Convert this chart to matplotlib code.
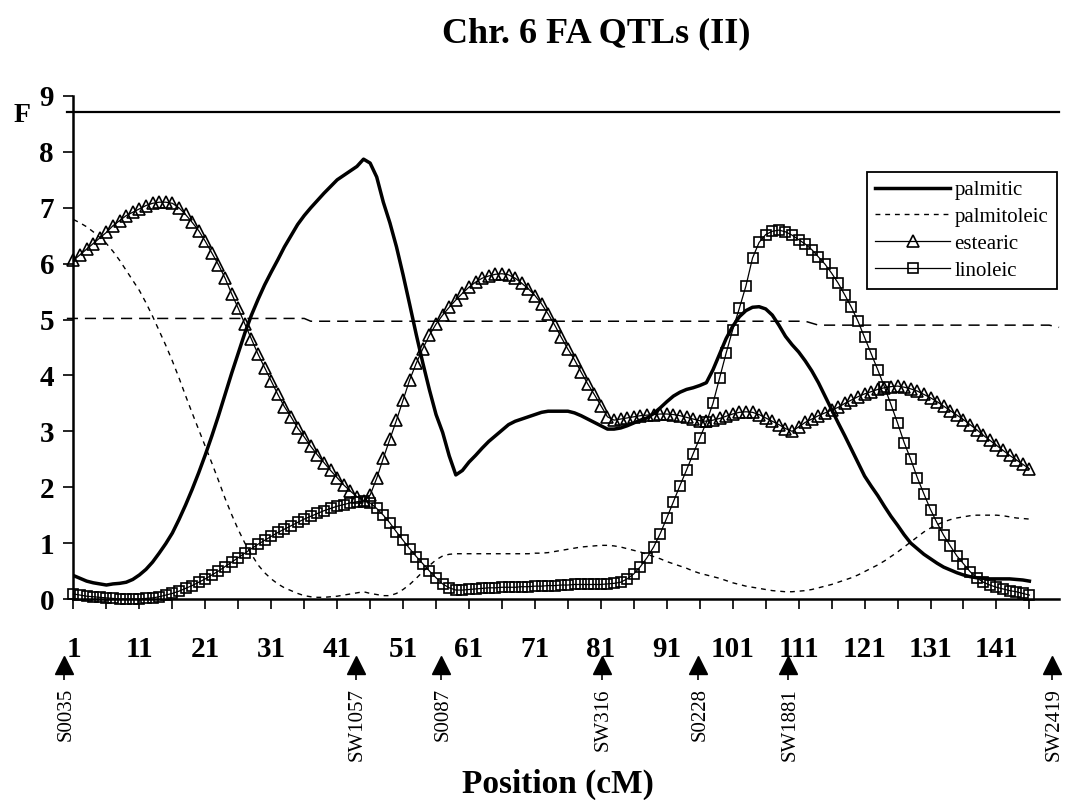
import numpy as np
import matplotlib
matplotlib.use("Agg")
import matplotlib.pyplot as plt

plt.rcParams['font.family'] = ['Liberation Serif', 'DejaVu Serif']
plt.rcParams['lines.scale_dashes'] = False

# positions (cM), one value per position
position = np.arange(1, 147)

palmitic = [
    0.42, 0.37, 0.32, 0.29, 0.27, 0.25, 0.27, 0.28, 0.30, 0.35,
    0.43, 0.53, 0.66, 0.82, 0.99, 1.18, 1.42, 1.68, 1.96, 2.26,
    2.58, 2.92, 3.28, 3.66, 4.04, 4.40, 4.76, 5.08, 5.36, 5.62,
    5.85, 6.07, 6.30, 6.50, 6.70, 6.86, 7.00, 7.13, 7.26, 7.38,
    7.50, 7.58, 7.66, 7.74, 7.87, 7.80, 7.55, 7.10, 6.73, 6.30,
    5.80, 5.27, 4.73, 4.22, 3.74, 3.30, 2.98, 2.56, 2.22, 2.30,
    2.45, 2.57, 2.70, 2.82, 2.92, 3.02, 3.12, 3.18, 3.22, 3.26,
    3.30, 3.34, 3.36, 3.36, 3.36, 3.36, 3.33, 3.28, 3.22, 3.16,
    3.10, 3.04, 3.04, 3.06, 3.10, 3.15, 3.20, 3.24, 3.32, 3.42,
    3.53, 3.63, 3.70, 3.75, 3.78, 3.82, 3.87, 4.10, 4.38, 4.66,
    4.88, 5.05, 5.16, 5.22, 5.23, 5.19, 5.08, 4.90, 4.70, 4.55,
    4.42, 4.26, 4.08, 3.87, 3.63, 3.39, 3.15, 2.92, 2.68, 2.44,
    2.20, 2.02, 1.85, 1.66, 1.48, 1.32, 1.15, 1.00, 0.90, 0.80,
    0.72, 0.64, 0.57, 0.52, 0.47, 0.43, 0.40, 0.38, 0.37, 0.36,
    0.36, 0.36, 0.36, 0.35, 0.34, 0.32,
]

palmitoleic = [
    6.79, 6.73, 6.66, 6.57, 6.47, 6.36, 6.22, 6.06, 5.88, 5.70,
    5.52, 5.30, 5.06, 4.80, 4.54, 4.26, 3.96, 3.64, 3.33, 3.03,
    2.73, 2.43, 2.12, 1.80, 1.51, 1.24, 1.00, 0.80, 0.61, 0.47,
    0.36, 0.27, 0.20, 0.15, 0.10, 0.06, 0.04, 0.03, 0.03, 0.04,
    0.05, 0.07, 0.09, 0.11, 0.13, 0.10, 0.08, 0.06, 0.06, 0.10,
    0.17, 0.26, 0.37, 0.49, 0.60, 0.70, 0.77, 0.80, 0.81, 0.81,
    0.81, 0.81, 0.81, 0.81, 0.81, 0.81, 0.81, 0.81, 0.81, 0.81,
    0.82, 0.82, 0.83, 0.85, 0.87, 0.89, 0.91, 0.93, 0.94, 0.95,
    0.96, 0.96, 0.95, 0.93, 0.90, 0.87, 0.84, 0.80, 0.76, 0.72,
    0.67, 0.63, 0.59, 0.55, 0.50, 0.46, 0.43, 0.40, 0.37, 0.33,
    0.29, 0.26, 0.23, 0.21, 0.19, 0.17, 0.15, 0.14, 0.13, 0.13,
    0.14, 0.15, 0.17, 0.20, 0.23, 0.26, 0.30, 0.34, 0.38, 0.43,
    0.49, 0.55, 0.61, 0.68, 0.76, 0.84, 0.93, 1.02, 1.11, 1.20,
    1.27, 1.33, 1.38, 1.42, 1.45, 1.47, 1.49, 1.50, 1.50, 1.50,
    1.50, 1.49, 1.47, 1.45, 1.44, 1.43,
]

estearic = [
    6.06, 6.16, 6.26, 6.36, 6.46, 6.56, 6.68, 6.77, 6.86, 6.92,
    6.98, 7.04, 7.08, 7.10, 7.10, 7.08, 7.00, 6.88, 6.74, 6.59,
    6.40, 6.19, 5.98, 5.74, 5.46, 5.20, 4.92, 4.65, 4.38, 4.14,
    3.90, 3.66, 3.44, 3.26, 3.06, 2.90, 2.73, 2.58, 2.44, 2.30,
    2.17, 2.04, 1.93, 1.83, 1.76, 1.86, 2.16, 2.52, 2.86, 3.20,
    3.56, 3.92, 4.22, 4.48, 4.72, 4.92, 5.08, 5.22, 5.35, 5.47,
    5.58, 5.67, 5.74, 5.78, 5.81, 5.82, 5.80, 5.74, 5.65, 5.55,
    5.43, 5.28, 5.10, 4.90, 4.68, 4.47, 4.28, 4.06, 3.85, 3.66,
    3.46, 3.26, 3.20, 3.22, 3.24, 3.26, 3.28, 3.29, 3.30, 3.31,
    3.31, 3.30, 3.28, 3.25, 3.22, 3.19, 3.18, 3.20, 3.23, 3.27,
    3.31, 3.34, 3.35, 3.34, 3.30, 3.24, 3.18, 3.12, 3.05, 3.00,
    3.08, 3.16, 3.22, 3.28, 3.33, 3.38, 3.43, 3.50, 3.56, 3.62,
    3.67, 3.71, 3.75, 3.78, 3.80, 3.81, 3.79, 3.76, 3.72, 3.66,
    3.60, 3.53, 3.45, 3.37, 3.29, 3.21, 3.12, 3.03, 2.93, 2.84,
    2.75, 2.66, 2.57, 2.49, 2.41, 2.33,
]

linoleic = [
    0.09, 0.07, 0.05, 0.04, 0.03, 0.02, 0.01, 0.00, 0.00, 0.00,
    0.00, 0.01, 0.02, 0.04, 0.07, 0.10, 0.14, 0.19, 0.24, 0.30,
    0.36, 0.43, 0.50, 0.58, 0.66, 0.74, 0.82, 0.90, 0.98, 1.05,
    1.12, 1.19, 1.25, 1.31, 1.37, 1.43, 1.48, 1.53, 1.58, 1.62,
    1.66, 1.69, 1.72, 1.74, 1.75, 1.72, 1.62, 1.50, 1.36, 1.20,
    1.05, 0.90, 0.76, 0.63, 0.50, 0.38, 0.27, 0.20, 0.16, 0.16,
    0.17, 0.18, 0.19, 0.20, 0.20, 0.21, 0.21, 0.21, 0.22, 0.22,
    0.23, 0.23, 0.24, 0.24, 0.25, 0.25, 0.26, 0.26, 0.26, 0.26,
    0.26, 0.27, 0.28, 0.30, 0.36, 0.45, 0.58, 0.74, 0.93, 1.17,
    1.45, 1.74, 2.03, 2.31, 2.60, 2.88, 3.16, 3.50, 3.95, 4.40,
    4.82, 5.20, 5.60, 6.10, 6.38, 6.52, 6.58, 6.60, 6.57, 6.51,
    6.43, 6.35, 6.25, 6.12, 5.99, 5.83, 5.65, 5.44, 5.22, 4.97,
    4.68, 4.39, 4.10, 3.80, 3.48, 3.15, 2.80, 2.50, 2.17, 1.88,
    1.60, 1.36, 1.14, 0.95, 0.77, 0.63, 0.49, 0.38, 0.30, 0.25,
    0.21, 0.18, 0.15, 0.13, 0.10, 0.07,
]

# significance thresholds
thr_x = [0, 36, 37, 112, 114, 149, 150.5]
thr_5 = [5.02, 5.02, 4.97, 4.97, 4.90, 4.90, 4.86]
thr_top_x = [0, 150.5]
thr_top = [8.72, 8.72]

# microsatellite markers under the axis
marker_names = ["S0035", "SW1057", "S0087", "SW316", "S0228", "SW1881", "SW2419"]
marker_pos = [-0.4, 43.8, 56.7, 81.1, 95.8, 109.4, 149.5]

xtick_major = list(range(1, 147, 10))
xtick_minor = list(range(6, 147, 10))

fig = plt.figure(figsize=(10.66, 8), dpi=100)
ax = fig.add_axes([0.0689, 0.25125, 0.9246, 0.62875])

ax.plot(thr_top_x, thr_top, color='black', lw=1.6, clip_on=False)
ax.plot(thr_x, thr_5, color='black', lw=1.1, dashes=(8, 5), clip_on=False)

ax.plot(position, palmitic, color='black', lw=2.5, label='palmitic')
ax.plot(position, palmitoleic, color='black', lw=1.0, dashes=(3.5, 3.5),
        label='palmitoleic')
ax.plot(position, estearic, color='black', lw=0.9, marker='^', ms=8,
        mfc='none', mec='black', mew=1.2, clip_on=False, label='estearic')
ax.plot(position, linoleic, color='black', lw=0.9, marker='s', ms=7.5,
        mfc='none', mec='black', mew=1.2, clip_on=False, label='linoleic')

ax.set_xlim(1, 150.5)
ax.set_ylim(0, 9)

for s in ['top', 'right']:
    ax.spines[s].set_visible(False)
for s in ['left', 'bottom']:
    ax.spines[s].set_linewidth(1.8)

ax.set_xticks(xtick_major)
ax.set_xticklabels([str(v) for v in xtick_major])
ax.set_xticks(xtick_minor, minor=True)
ax.set_yticks(range(0, 10))
ax.tick_params(axis='x', which='both', direction='out', length=7.5, width=1.2)
ax.tick_params(axis='x', which='major', pad=19, labelsize=21)
ax.tick_params(axis='y', direction='out', length=7, width=1.2, pad=7,
               labelsize=21)
for lab in ax.get_xticklabels() + ax.get_yticklabels():
    lab.set_fontweight('bold')

# marker arrows and names
trans = ax.get_xaxis_transform()
ax.plot(marker_pos, [-0.131] * len(marker_pos), linestyle='none', marker='^',
        ms=13.5, color='black', transform=trans, clip_on=False)
ax.vlines(marker_pos, -0.161, -0.145, color='black', lw=1.2,
          transform=trans, clip_on=False)
for name, pos in zip(marker_names, marker_pos):
    ax.text(pos + 0.3, -0.177, name, transform=trans, rotation=90,
            ha='center', va='top', fontsize=15)

leg = ax.legend(loc='upper left', bbox_to_anchor=(867 / 1066, 1 - 172 / 800),
                bbox_transform=fig.transFigure, borderaxespad=0,
                fontsize=15, handlelength=3.6, handletextpad=0.2,
                labelspacing=0.35, borderpad=0.4, numpoints=1,
                fancybox=False, framealpha=1, edgecolor='black')
leg.get_frame().set_linewidth(1.3)

fig.text(596 / 1066, 1 - 42 / 800, "Chr. 6 FA QTLs (II)", ha='center',
         va='baseline', fontsize=26, fontweight='bold')
fig.text(22 / 1066, 1 - 115 / 800, "F", ha='center', va='center',
         fontsize=20, fontweight='bold')
fig.text(558 / 1066, 1 - 793 / 800, "Position (cM)", ha='center',
         va='baseline', fontsize=24, fontweight='bold')

fig.savefig("out.png", dpi=100)
